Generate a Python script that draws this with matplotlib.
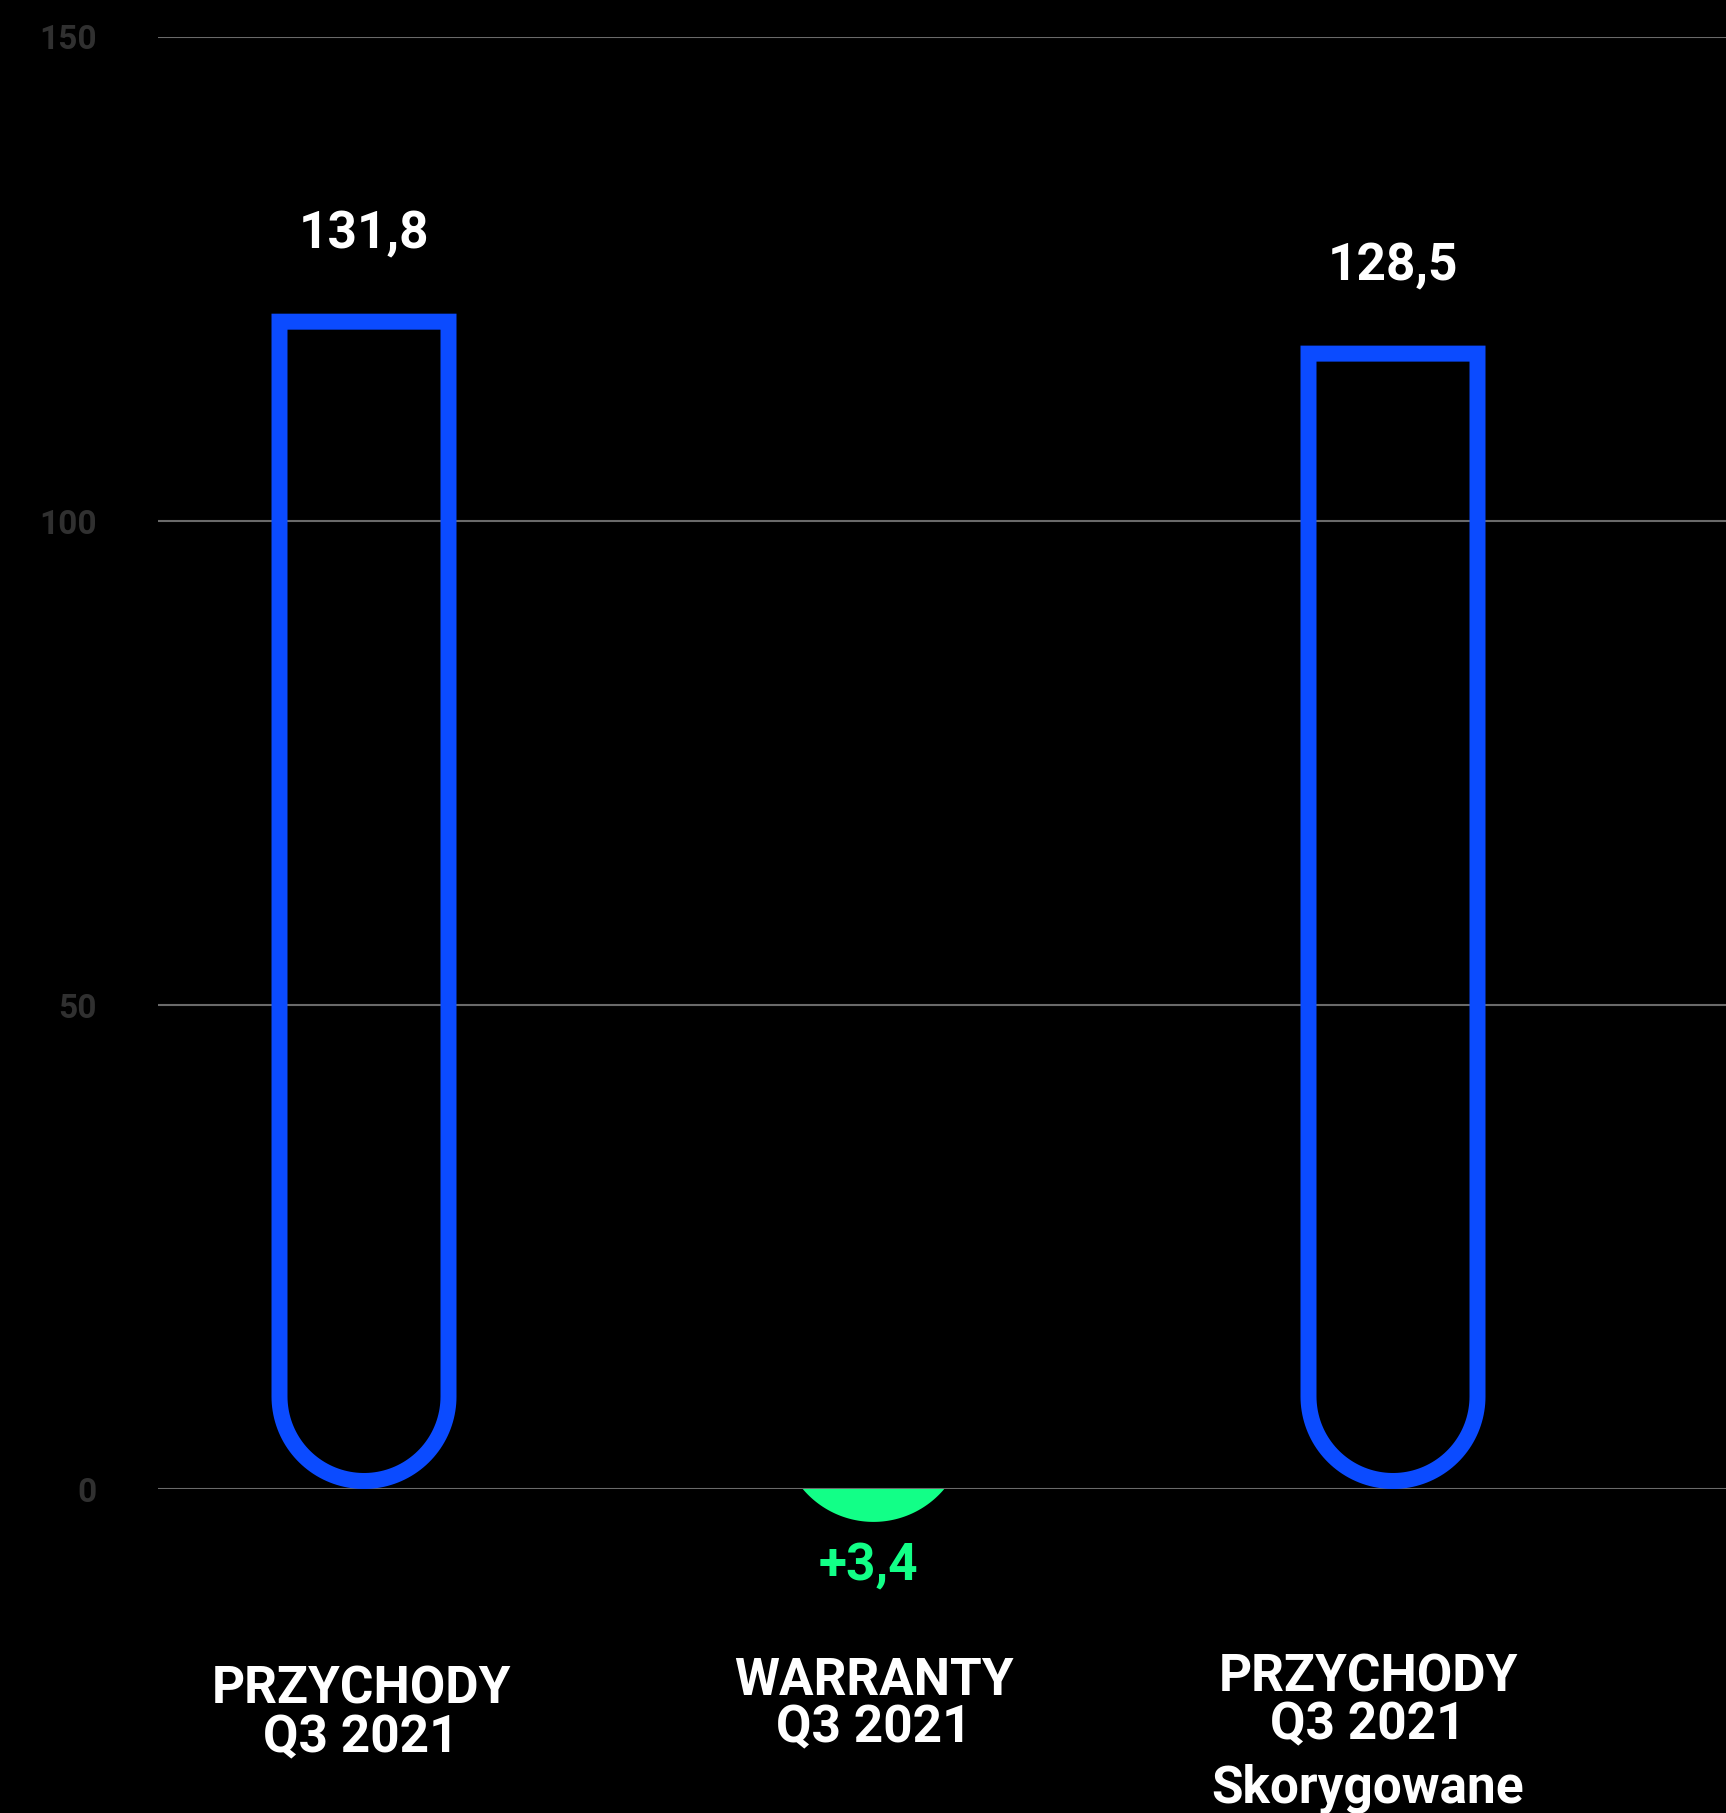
import numpy as np
import matplotlib
matplotlib.use("Agg")
import matplotlib.pyplot as plt
from matplotlib.path import Path
from matplotlib.patches import PathPatch, Polygon
from matplotlib import transforms

# ---------------- data ----------------
categories = [["PRZYCHODY", "Q3 2021"],
              ["WARRANTY", "Q3 2021"],
              ["PRZYCHODY", "Q3 2021", "Skorygowane"]]
revenue_values = [131.8, None, 128.5]     # outlined blue bars
warrant_value = 3.4                      # green adjustment (drawn below zero)
y_ticks = [0, 50, 100, 150]

# ---------------- style ----------------
W, H = 1726, 1813
BLUE = "#0B4BFF"
GREEN = "#12FF87"
GRID = "#6a6a6a"
TICKC = "#303030"
FONT = ["Roboto", "DejaVu Sans"]

plt.rcParams['font.family'] = FONT

fig = plt.figure(figsize=(W / 100, H / 100), dpi=100, facecolor="black")
ax_left, ax_right = 158, W
y0_px, y150_px = 1489, 37
ax = fig.add_axes([ax_left / W, (H - y0_px) / H, (ax_right - ax_left) / W, (y0_px - y150_px) / H])
ax.set_facecolor("black")

px_per_x = (1393 - 364) / 2.0
ax.set_xlim((ax_left - 364) / px_per_x, (ax_right - 364) / px_per_x)
ax.set_ylim(0, 150)
px_per_y = (y0_px - y150_px) / 150.0

for s in ax.spines.values():
    s.set_visible(False)
ax.set_xticks([])
ax.set_yticks(y_ticks)
ax.set_yticklabels([str(t) for t in y_ticks], color=TICKC, fontsize=24, fontweight="bold")
ax.tick_params(axis="y", length=0, pad=44)
ax.yaxis.grid(True, color=GRID, linewidth=1.5)
ax.set_axisbelow(True)

# bar geometry (pixels)
R_OUT = 92.5     # half bar width incl. stroke
STROKE = 16.0
hs = STROKE / 2

x_pos = np.arange(len(categories))

def tube_path(xc, value):
    w = (R_OUT - hs) / px_per_x
    ry = (R_OUT - hs) / px_per_y
    bottom = hs / px_per_y
    yc = bottom + ry
    outer_top = value - (R_OUT + hs) / px_per_y
    top = outer_top - hs / px_per_y
    t = np.linspace(np.pi, 2 * np.pi, 80)
    arc_x = xc + w * np.cos(t)
    arc_y = yc + ry * np.sin(t)
    verts = [(xc - w, top)] + list(zip(arc_x, arc_y)) + [(xc + w, top), (xc - w, top)]
    codes = [Path.MOVETO] + [Path.LINETO] * (len(verts) - 2) + [Path.CLOSEPOLY]
    return Path(verts, codes)

for i, v in enumerate(revenue_values):
    if v is None:
        continue
    p = PathPatch(tube_path(x_pos[i], v), facecolor="none", edgecolor=BLUE,
                  linewidth=STROKE * 72 / 100, joinstyle="miter", zorder=3, clip_on=False)
    ax.add_patch(p)
    ax.text(x_pos[i], v - 3.65, f"{v:.1f}".replace(".", ","), ha="center", va="baseline",
            color="white", fontsize=37, fontweight="bold", zorder=4)

# green segment (rounded bar end below zero)
xc = x_pos[1] - 5 / px_per_x
Rx = R_OUT / px_per_x
Ry = R_OUT / px_per_y
yc = -warrant_value + Ry
a = np.arcsin(yc / Ry)
t = np.linspace(np.pi + a, 2 * np.pi - a, 100)
pts = np.column_stack([xc + Rx * np.cos(t), yc + Ry * np.sin(t)])
ax.add_patch(Polygon(pts, closed=True, facecolor=GREEN, edgecolor="none", zorder=3, clip_on=False))
ax.text(x_pos[1] - 10 / px_per_x, -warrant_value - 6.0, "+" + f"{warrant_value:.1f}".replace(".", ","),
        ha="center", va="baseline", color=GREEN, fontsize=37, fontweight="bold", zorder=4)

# category labels
blend = transforms.blended_transform_factory(ax.transData, fig.transFigure)
label_dx_px = [-3, -5, -25]
label_baselines_px = [[1703, 1752], [1695, 1742], [1692, 1739, 1803]]
for i, lines in enumerate(categories):
    for line, by in zip(lines, label_baselines_px[i]):
        ax.text(x_pos[i] + label_dx_px[i] / px_per_x, 1 - by / H, line, transform=blend,
                ha="center", va="baseline", color="white", fontsize=37, fontweight="bold",
                clip_on=False)

fig.savefig("out.png", dpi=100, facecolor="black")
